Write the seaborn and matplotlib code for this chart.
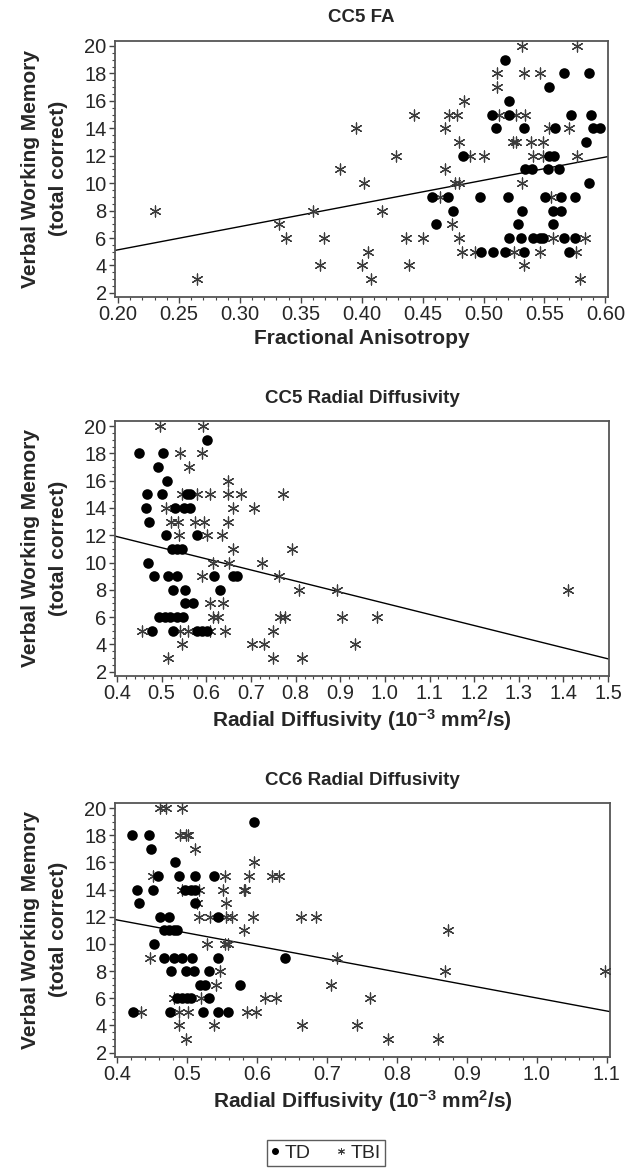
import numpy as np
import pandas as pd
import seaborn as sns
import matplotlib
matplotlib.use("Agg")
import matplotlib.pyplot as plt
from matplotlib.lines import Line2D
from matplotlib.ticker import MultipleLocator

# ---------------- data ----------------
fa_td_x = [0.518, 0.566, 0.587, 0.554, 0.521, 0.507, 0.521, 0.572, 0.588, 0.510, 0.533, 0.559, 0.590, 0.596,
           0.584, 0.483, 0.554, 0.558, 0.534, 0.540, 0.553, 0.562, 0.587, 0.458, 0.471, 0.497, 0.520, 0.5505,
           0.564, 0.575, 0.475, 0.532, 0.557, 0.564, 0.461, 0.528, 0.557, 0.521, 0.531, 0.541, 0.546, 0.549,
           0.566, 0.575, 0.498, 0.508, 0.518, 0.5336, 0.5705]
fa_td_y = [19, 18, 18, 17, 16, 15, 15, 15, 15, 14, 14, 14, 14, 14,
           13, 12, 12, 12, 11, 11, 11, 11, 10, 9, 9, 9, 9, 9,
           9, 9, 8, 8, 8, 8, 7, 7, 7, 6, 6, 6, 6, 6,
           6, 6, 5, 5, 5, 5, 5]
fa_tbi_x = [0.230, 0.265, 0.332, 0.338, 0.360, 0.369, 0.366, 0.395, 0.382, 0.402, 0.417, 0.405, 0.400, 0.408,
            0.428, 0.5315, 0.5765, 0.511, 0.533, 0.546, 0.511, 0.484, 0.443, 0.472, 0.4785, 0.513, 0.527, 0.534,
            0.468, 0.554, 0.570, 0.480, 0.524, 0.527, 0.539, 0.549, 0.489, 0.500, 0.541, 0.549, 0.577, 0.4686,
            0.477, 0.480, 0.532, 0.464, 0.555, 0.474, 0.4366, 0.450, 0.480, 0.557, 0.583, 0.482, 0.493, 0.525,
            0.546, 0.576, 0.439, 0.533, 0.579]
fa_tbi_y = [8, 3, 7, 6, 8, 6, 4, 14, 11, 10, 8, 5, 4, 3,
            12, 20, 20, 18, 18, 18, 17, 16, 15, 15, 15, 15, 15, 15,
            14, 14, 14, 13, 13, 13, 13, 13, 12, 12, 12, 12, 12, 11,
            10, 10, 10, 9, 9, 7, 6, 6, 6, 6, 6, 5, 5, 5,
            5, 5, 4, 4, 3]

rd5_td_x = [0.601, 0.449, 0.504, 0.491, 0.511, 0.468, 0.500, 0.556, 0.5635, 0.464, 0.531, 0.549, 0.5635, 0.472,
            0.510, 0.5785, 0.5225, 0.534, 0.545, 0.470, 0.483, 0.515, 0.534, 0.617, 0.659, 0.668, 0.525, 0.552,
            0.631, 0.552, 0.571, 0.495, 0.508, 0.519, 0.534, 0.547, 0.479, 0.525, 0.5785, 0.590, 0.601]
rd5_td_y = [19, 18, 18, 17, 16, 15, 15, 15, 15, 14, 14, 14, 14, 13,
            12, 12, 11, 11, 11, 10, 9, 9, 9, 9, 9, 9, 8, 8,
            8, 7, 7, 6, 6, 6, 6, 6, 5, 5, 5, 5, 5]
rd5_tbi_x = [0.496, 0.593, 0.540, 0.591, 0.561, 0.648, 0.545, 0.5785, 0.608, 0.649, 0.677, 0.7725, 0.510, 0.659,
             0.707, 0.520, 0.537, 0.575, 0.595, 0.649, 0.539, 0.601, 0.636, 0.659, 0.793, 0.616, 0.651, 0.724,
             0.590, 0.763, 0.808, 0.892, 1.411, 0.608, 0.638, 0.616, 0.627, 0.765, 0.776, 0.903, 0.982, 0.457,
             0.541, 0.560, 0.608, 0.642, 0.750, 0.546, 0.703, 0.729, 0.933, 0.515, 0.749, 0.814]
rd5_tbi_y = [20, 20, 18, 18, 17, 16, 15, 15, 15, 15, 15, 15, 14, 14,
             14, 13, 13, 13, 13, 13, 12, 12, 12, 11, 11, 10, 10, 10,
             9, 9, 8, 8, 8, 7, 7, 6, 6, 6, 6, 6, 6, 5,
             5, 5, 5, 5, 5, 4, 4, 4, 4, 3, 3, 3]

rd6_td_x = [0.596, 0.421, 0.445, 0.449, 0.483, 0.459, 0.489, 0.511, 0.538, 0.429, 0.451, 0.4976, 0.505, 0.512,
            0.432, 0.512, 0.461, 0.474, 0.544, 0.467, 0.474, 0.481, 0.486, 0.453, 0.467, 0.482, 0.493, 0.507,
            0.544, 0.640, 0.477, 0.498, 0.510, 0.532, 0.519, 0.525, 0.576, 0.486, 0.493, 0.500, 0.506, 0.532,
            0.423, 0.475, 0.523, 0.544, 0.558]
rd6_td_y = [19, 18, 18, 17, 16, 15, 15, 15, 15, 14, 14, 14, 14, 14,
            13, 13, 12, 12, 12, 11, 11, 11, 11, 10, 9, 9, 9, 9,
            9, 9, 8, 8, 8, 8, 7, 7, 7, 6, 6, 6, 6, 6,
            5, 5, 5, 5, 5]
rd6_tbi_x = [0.462, 0.470, 0.493, 0.490, 0.498, 0.502, 0.512, 0.595, 0.452, 0.554, 0.589, 0.621, 0.631, 0.493,
             0.517, 0.551, 0.581, 0.583, 0.514, 0.556, 0.517, 0.533, 0.555, 0.564, 0.594, 0.663, 0.684, 0.582,
             0.873, 0.529, 0.554, 0.558, 0.4476, 0.714, 0.547, 0.869, 1.097, 0.541, 0.706, 0.482, 0.520, 0.612,
             0.627, 0.762, 0.434, 0.488, 0.502, 0.585, 0.598, 0.489, 0.539, 0.664, 0.743, 0.499, 0.787, 0.859]
rd6_tbi_y = [20, 20, 20, 18, 18, 18, 17, 16, 15, 15, 15, 15, 15, 14,
             14, 14, 14, 14, 13, 13, 12, 12, 12, 12, 12, 12, 12, 11,
             11, 10, 10, 10, 9, 9, 8, 8, 8, 7, 7, 6, 6, 6,
             6, 6, 5, 5, 5, 5, 5, 4, 4, 4, 4, 3, 3, 3]

# fitted regression lines (intercept, slope)
fit_intercepts = [1.76, 15.16, 15.6]
fit_slopes = [16.9, -8.15, -9.58]

titles = ["CC5 FA", "CC5 Radial Diffusivity", "CC6 Radial Diffusivity"]
xlabels = ["Fractional Anisotropy",
           r"Radial Diffusivity (10$^{-3}$ mm$^{2}$/s)",
           r"Radial Diffusivity (10$^{-3}$ mm$^{2}$/s)"]
ylabel = "Verbal Working Memory\n(total correct)"
group_labels = ["TD", "TBI"]

# ---------------- style ----------------
sns.set_theme(style="ticks")
plt.rcParams["font.family"] = ["Liberation Sans", "DejaVu Sans"]
plt.rcParams["mathtext.fontset"] = "custom"
plt.rcParams["mathtext.rm"] = "Liberation Sans:bold"
plt.rcParams["mathtext.it"] = "Liberation Sans:bold"
plt.rcParams["mathtext.bf"] = "Liberation Sans:bold"
plt.rcParams["mathtext.default"] = "bf"

W, H = 635, 1169
fig = plt.figure(figsize=(W / 100, H / 100), dpi=100)

# axes boxes in pixels: left, top, right, bottom
boxes = [(115, 40.5, 608, 297), (115, 420.7, 609, 675.7), (115, 802.7, 610, 1056.7)]
xlims = [(0.1975, 0.6022), (0.3955, 1.502), (0.397, 1.1045)]
xmajor = [0.05, 0.1, 0.1]
xfmt = ["{:.2f}", "{:.1f}", "{:.1f}"]

datasets = [
    (fa_td_x, fa_td_y, fa_tbi_x, fa_tbi_y),
    (rd5_td_x, rd5_td_y, rd5_tbi_x, rd5_tbi_y),
    (rd6_td_x, rd6_td_y, rd6_tbi_x, rd6_tbi_y),
]

star = (6, 2, 0)
star_color = "#3c3c3c"

for i, (l, t, r, b) in enumerate(boxes):
    ax = fig.add_axes([l / W, 1 - b / H, (r - l) / W, (b - t) / H])
    tdx, tdy, tbx, tby = datasets[i]
    df_td = pd.DataFrame({"x": tdx, "y": tdy})
    df_tb = pd.DataFrame({"x": tbx, "y": tby})
    sns.scatterplot(data=df_tb, x="x", y="y", ax=ax, marker=star, s=62,
                    color=star_color, linewidth=0.9, legend=False, zorder=3)
    sns.scatterplot(data=df_td, x="x", y="y", ax=ax, marker="o", s=58,
                    color="black", edgecolor="black", linewidth=0, legend=False, zorder=4)
    x0, x1 = xlims[i]
    lx = np.array([x0, x1])
    ly = fit_intercepts[i] + fit_slopes[i] * lx
    sns.lineplot(x=lx, y=ly, ax=ax, color="black", linewidth=1.0, zorder=2)

    ax.set_xlim(x0, x1)
    ax.set_ylim(1.7, 20.4)
    ticks = [v for v in np.arange(0, 2, xmajor[i]) if x0 - 1e-9 <= v <= x1 + 1e-9]
    ax.set_xticks(ticks)
    ax.set_xticklabels([xfmt[i].format(v) for v in ticks])
    ax.set_yticks(range(2, 21, 2))
    ax.xaxis.set_minor_locator(MultipleLocator(xmajor[i] / 5))
    ax.yaxis.set_minor_locator(MultipleLocator(0.5))
    ax.tick_params(axis="both", which="major", direction="out", length=4, width=1,
                   labelsize=14.5, color="#444444", pad=2)
    ax.tick_params(axis="both", which="minor", direction="out", length=2.5, width=0.8,
                   color="#444444")
    for sp in ax.spines.values():
        sp.set_visible(True)
        sp.set_color("#555555")
        sp.set_linewidth(1.3)
    ax.set_title(titles[i], fontsize=13.5, fontweight="bold", pad=13)
    ax.set_xlabel(xlabels[i], fontsize=15, fontweight="bold", labelpad=3)
    ax.set_ylabel(ylabel, fontsize=15, fontweight="bold", labelpad=12, linespacing=1.55)

handles = [
    Line2D([], [], linestyle="none", marker="o", markersize=4, color="black"),
    Line2D([], [], linestyle="none", marker=star, markersize=5, color=star_color,
           markeredgewidth=0.7),
]
leg = fig.legend(handles, group_labels, loc="lower center", bbox_to_anchor=(0.513, -0.002),
                 ncol=2, frameon=True, fancybox=False, fontsize=14, handlelength=0.5,
                 handletextpad=0.25, columnspacing=1.3, borderpad=0.2, borderaxespad=0.3,
                 edgecolor="#333333")
leg.get_frame().set_linewidth(1.0)

fig.savefig("out.png", dpi=100, facecolor="white")
